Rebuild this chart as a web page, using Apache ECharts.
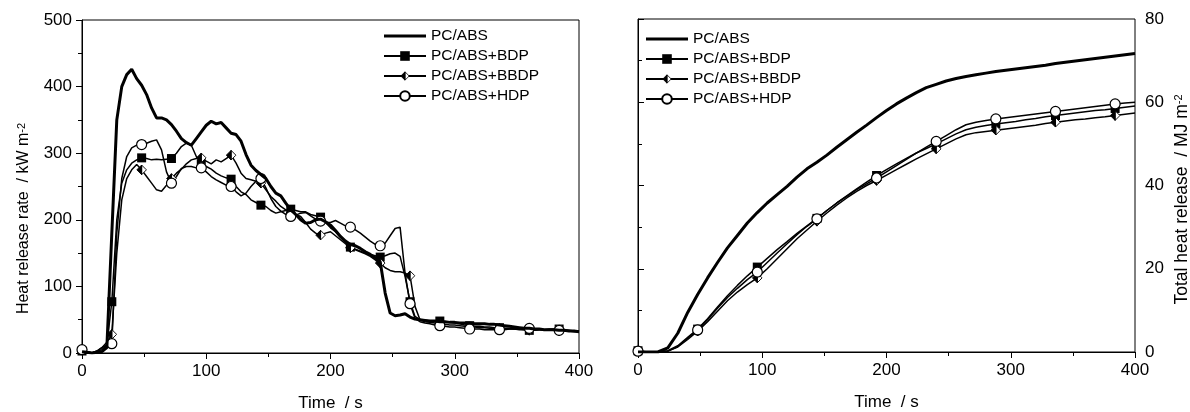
<!DOCTYPE html>
<html><head><meta charset="utf-8">
<script src="https://cdn.jsdelivr.net/npm/echarts@6/dist/echarts.min.js"></script>
<style>html,body{margin:0;padding:0;background:#fff}#c{width:1190px;height:412px}</style>
</head><body><div id="c"></div>
<script>
// ---------- DATA ----------
const seriesNames = ['PC/ABS', 'PC/ABS+BDP', 'PC/ABS+BBDP', 'PC/ABS+HDP'];
const xTicks = [0, 100, 200, 300, 400];
const hrrTicks = [0, 100, 200, 300, 400, 500];
const thrTicks = [0, 20, 40, 60, 80];

// Heat release rate (kW m-2), time in s
const hrrTime = [0,4,8,12,16,20,24,28,32,36,40,44,48,52,56,60,64,68,72,76,80,84,88,92,96,100,
  104,108,112,116,120,124,128,132,136,140,144,148,152,156,160,164,168,172,176,180,184,188,192,196,200,
  204,208,212,216,220,224,228,232,236,240,244,248,252,256,260,264,268,272,276,280,284,288,292,296,300,
  304,308,312,316,320,324,328,332,336,340,344,348,352,356,360,364,368,372,376,380,384,388,392,396,400];
const hrrPCABS = [2,1,0,1,2,8,180,350,400,418,426,412,402,388,368,353,353,350,343,333,322,316,312,322,332,342,
  348,344,346,338,330,328,318,298,282,274,268,262,250,240,236,225,215,208,200,195,196,200,201,197,192,
  184,175,168,163,161,157,152,148,143,137,90,60,56,57,59,54,51,50,49,48,48,47,47,46,46,
  45,45,45,44,44,44,43,43,42,41,40,39,38,37,37,36,36,35,35,35,34,34,33,33,32];
const hrrBDP = [3,2,0,2,5,12,77,200,255,275,285,290,293,292,290,291,290,291,292,300,310,315,312,295,284,280,
  276,270,266,263,261,250,242,238,230,226,222,220,214,210,212,214,216,214,212,212,208,206,204,196,188,
  182,174,166,159,156,153,150,148,146,144,146,149,150,145,115,77,55,50,49,48,48,48,47,46,45,
  44,42,41,40,40,39,39,38,38,37,37,36,36,35,34,34,35,35,36,36,36,35,34,33,32];
const hrrBBDP = [5,2,0,3,8,16,28,150,230,262,275,283,275,265,255,245,243,252,262,270,276,284,290,292,293,288,
  284,290,287,292,297,285,270,262,260,258,255,245,235,228,220,215,210,208,205,196,186,180,177,180,182,
  176,170,164,158,155,152,149,145,140,135,128,124,122,122,120,116,70,50,47,46,45,44,43,42,42,
  41,40,39,39,38,38,37,37,37,36,36,36,35,35,34,34,35,35,35,34,33,33,33,32,32];
const hrrHDP = [5,1,0,3,8,12,14,180,262,295,308,312,313,315,318,320,305,272,255,265,277,280,280,278,278,272,
  265,260,256,252,250,242,236,240,250,258,262,248,232,220,213,208,205,207,210,211,206,201,198,196,196,
  199,195,191,189,185,180,174,168,163,161,165,176,187,189,120,74,52,47,45,44,42,41,40,39,39,
  38,37,36,36,36,35,35,35,35,35,36,36,36,37,37,36,36,35,35,34,34,34,33,33,33];

// Total heat release (MJ m-2), time in s
const thrTime = [0,8,16,24,32,40,48,56,64,72,80,88,96,104,112,120,128,136,144,152,160,168,176,184,192,200,
  208,216,224,232,240,248,256,264,272,280,288,296,304,312,320,328,336,344,352,360,368,376,384,392,400];
const thrPCABS = [0,0,0,1.0,4.5,9.5,13.8,17.8,21.5,25,28,31,33.5,35.8,37.8,39.8,42,44,45.6,47.3,49.2,51,52.8,54.5,56.3,58,
  59.6,61,62.3,63.5,64.3,65.1,65.7,66.2,66.6,67.0,67.4,67.7,68.0,68.3,68.6,68.9,69.3,69.6,69.9,70.2,70.5,70.8,71.1,71.4,71.7];
const thrBDP = [0.3,0,0,0.3,1.5,3.5,5.5,8.0,10.8,13.5,16,18.3,20.4,22.5,24.6,26.5,28.5,30.3,32.1,34,35.8,37.5,39.2,40.8,42.4,43.8,
  45.2,46.5,47.8,48.9,50,51.2,52.4,53.4,54,54.4,54.8,55.1,55.4,55.8,56.1,56.5,56.8,57.1,57.4,57.7,58,58.2,58.5,58.8,59.1];
const thrBBDP = [0.2,0,0,0.2,1.2,3.0,5.0,7.3,9.8,12.3,14.4,16.2,17.8,20,22.4,24.8,27.2,29.3,31.4,33.4,35.3,37,38.6,40,41.2,42.5,
  43.8,45.1,46.4,47.6,48.8,50,51.2,52.2,52.7,53,53.3,53.6,53.9,54.2,54.5,54.9,55.2,55.5,55.8,56.0,56.3,56.5,56.8,57.1,57.4];
const thrHDP = [0.2,0,0,0.2,1.3,3.3,5.3,7.8,10.5,13.1,15.3,17.4,19.2,21.5,23.8,26,28.2,30.2,32,34,35.8,37.4,39,40.4,41.8,43.3,
  44.8,46.3,47.8,49.2,50.6,52,53.4,54.6,55.2,55.6,56,56.3,56.6,56.9,57.2,57.5,57.8,58.1,58.4,58.7,59,59.3,59.6,59.8,60.0];

// ---------- STYLE ----------
const FONT = '"Liberation Sans", Arial, sans-serif';
const halfDiamondSvg = "<svg xmlns='http://www.w3.org/2000/svg' width='24' height='24' viewBox='0 0 24 24'>" +
  "<path d='M12 1.5 L22.5 12 L12 22.5 Z' fill='white' stroke='black' stroke-width='2'/>" +
  "<path d='M12 1.5 L1.5 12 L12 22.5 Z' fill='black' stroke='black' stroke-width='2'/></svg>";
const halfDiamond = 'image://data:image/svg+xml;charset=utf-8,' + encodeURIComponent(halfDiamondSvg);

const markerDefs = [
  {symbol: 'none', size: 0, width: 3},
  {symbol: 'rect', size: 9, width: 1.5},
  {symbol: halfDiamond, size: 11, width: 1.5},
  {symbol: 'circle', size: 10, width: 1.5}
];

function makeSeries(idx, times, vals, axisIdx, step) {
  const m = markerDefs[idx];
  return {
    name: seriesNames[idx], type: 'line',
    xAxisIndex: axisIdx, yAxisIndex: axisIdx,
    data: times.map((t, i) => [t, vals[i]]),
    showAllSymbol: true,
    symbol: m.symbol,
    symbolSize: (v) => (v[0] % step === 0 ? m.size : 0),
    lineStyle: {color: '#000', width: m.width},
    itemStyle: {color: idx === 3 ? '#fff' : '#000', borderColor: '#000', borderWidth: idx === 3 ? 1.2 : 0},
    emphasis: {disabled: true},
    z: idx === 0 ? 3 : 2
  };
}

function xAxisCfg(gi) {
  return {
    type: 'value', gridIndex: gi, min: 0, max: 400, interval: 100,
    name: 'Time  / s', nameLocation: 'middle', nameGap: 42,
    nameTextStyle: {fontFamily: FONT, fontSize: 17, color: '#000'},
    axisLine: {show: true, onZero: false, lineStyle: {color: '#000', width: 1}},
    axisTick: {show: true, length: 6, lineStyle: {color: '#000'}},
    minorTick: {show: true, splitNumber: 2, length: 4, lineStyle: {color: '#000'}},
    axisLabel: {fontFamily: FONT, fontSize: 17, color: '#000', margin: 10,
      formatter: (v) => (xTicks.indexOf(v) >= 0 ? String(v) : '')},
    splitLine: {show: false}
  };
}

function legendCfg(left, top) {
  return {
    left: left, top: top, orient: 'vertical', padding: 0,
    itemWidth: 42, itemHeight: 12, itemGap: 4,
    data: seriesNames.map((n, i) => (i === 0 ? {name: n, icon: 'path://M0,0H42V3H0Z'} : {name: n})),
    selectedMode: false,
    textStyle: {fontFamily: FONT, fontSize: 15.5, color: '#000'}
  };
}

const option = {
  animation: false,
  backgroundColor: '#fff',
  grid: [
    {left: 82, right: 611, top: 20, bottom: 59, outerBoundsMode: 'none', containLabel: false,
      show: true, borderColor: '#000', borderWidth: 1},
    {left: 638, right: 55, top: 19, bottom: 60, outerBoundsMode: 'none', containLabel: false,
      show: true, borderColor: '#000', borderWidth: 1}
  ],
  xAxis: [xAxisCfg(0), xAxisCfg(1)],
  yAxis: [
    {
      type: 'value', gridIndex: 0, min: 0, max: 500, interval: 100, position: 'left',
      name: 'Heat release rate  / kW m{sup|-2}', nameLocation: 'middle', nameGap: 50,
      nameTextStyle: {fontFamily: FONT, fontSize: 16, color: '#000', padding: [0, 64, 0, 0],
        rich: {sup: {fontFamily: FONT, fontSize: 11, color: '#000', verticalAlign: 'top'}}},
      axisLine: {show: true, lineStyle: {color: '#000', width: 1}},
      axisTick: {show: true, length: 6, lineStyle: {color: '#000'}},
      minorTick: {show: true, splitNumber: 2, length: 4, lineStyle: {color: '#000'}},
      axisLabel: {fontFamily: FONT, fontSize: 17, color: '#000', margin: 10,
        formatter: (v) => (hrrTicks.indexOf(v) >= 0 ? String(v) : '')},
      splitLine: {show: false}
    },
    {
      type: 'value', gridIndex: 1, min: 0, max: 80, interval: 20, position: 'right',
      name: 'Total heat release  / MJ m{sup|-2}', nameLocation: 'middle', nameGap: 38, nameRotate: 90,
      nameTextStyle: {fontFamily: FONT, fontSize: 17.5, color: '#000', padding: [0, 28, 0, 0],
        rich: {sup: {fontFamily: FONT, fontSize: 11, color: '#000', verticalAlign: 'top'}}},
      axisLine: {show: true, lineStyle: {color: '#000', width: 1}},
      axisTick: {show: true, length: 6, lineStyle: {color: '#000'}},
      minorTick: {show: true, splitNumber: 2, length: 4, lineStyle: {color: '#000'}},
      axisLabel: {fontFamily: FONT, fontSize: 17, color: '#000', margin: 10,
        formatter: (v) => (thrTicks.indexOf(v) >= 0 ? String(v) : '')},
      splitLine: {show: false}
    }
  ],
  legend: [legendCfg(383, 28), legendCfg(645, 31)],
  series: [
    makeSeries(1, hrrTime, hrrBDP, 0, 24),
    makeSeries(2, hrrTime, hrrBBDP, 0, 24),
    makeSeries(3, hrrTime, hrrHDP, 0, 24),
    makeSeries(0, hrrTime, hrrPCABS, 0, 24),
    makeSeries(1, thrTime, thrBDP, 1, 48),
    makeSeries(2, thrTime, thrBBDP, 1, 48),
    makeSeries(3, thrTime, thrHDP, 1, 48),
    makeSeries(0, thrTime, thrPCABS, 1, 48)
  ]
};
const chart = echarts.init(document.getElementById('c'), null, {renderer: 'canvas'});
chart.setOption(option);
</script></body></html>
